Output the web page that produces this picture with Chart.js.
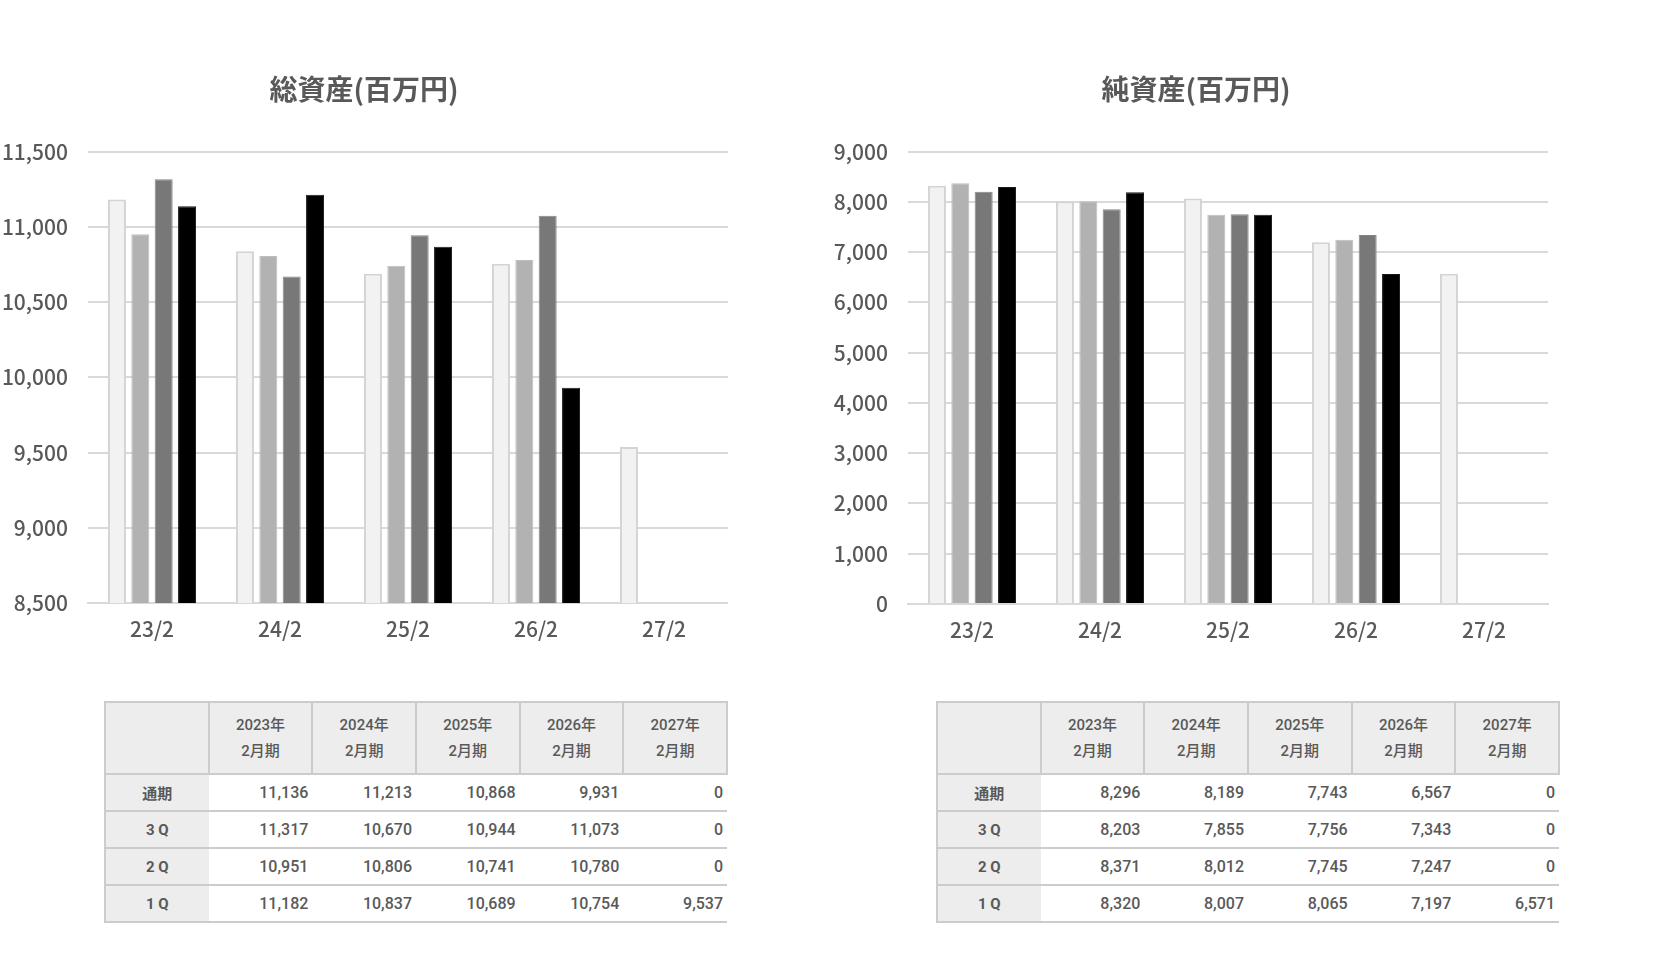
<!DOCTYPE html>
<html lang="ja">
<head>
<meta charset="utf-8">
<title>総資産・純資産</title>
<script src="https://cdn.jsdelivr.net/npm/chart.js@4.4.1/dist/chart.umd.min.js"></script>
<style>
    html, body {
        margin: 0;
        padding: 0;
        background: #ffffff;
    }
    body {
        width: 1666px;
        height: 962px;
        position: relative;
        overflow: hidden;
        font-family: Roboto, "Noto Sans CJK JP", sans-serif;
        color: #595959;
    }
    .chart {
        position: absolute;
        top: 0;
    }
    table {
        position: absolute;
        top: 701px;
        width: 624px;
        border-collapse: collapse;
        table-layout: fixed;
        font-weight: 500;
    }
    th {
        background: #ededed;
        border: 2px solid #cccccc;
        font-size: 15px;
        line-height: 26px;
        font-weight: 500;
        height: 70px;
        padding: 0;
    }
    td {
        border-top: 2px solid #cccccc;
        border-bottom: 2px solid #cccccc;
        font-size: 16px;
        height: 35px;
        padding: 0 4px 0 0;
        text-align: right;
    }
    td.label {
        background: #ededed;
        border-left: 2px solid #cccccc;
        text-align: center;
        padding: 0;
        font-size: 15px;
        font-weight: 700;
    }
</style>
</head>
<body>

<div class="chart" style="left:0;width:728px;height:660px"><canvas id="totalChart"></canvas></div>
<div class="chart" style="left:820px;width:752px;height:661px"><canvas id="netChart"></canvas></div>

<table id="totalTable" style="left:104px"></table>
<table id="netTable" style="left:936px"></table>

<script>
"use strict";

// categories (x axis) and table headers
const categories = ["23/2", "24/2", "25/2", "26/2", "27/2"];
const fiscalYears = ["2023年", "2024年", "2025年", "2026年", "2027年"];
const fiscalSuffix = "2月期";

// series, drawn in this order
const seriesNames = ["1Q", "2Q", "3Q", "通期"];
const rowLabels = ["通期", "3 Q", "2 Q", "1 Q"];

// 総資産 (百万円)
const total1Q = [11182, 10837, 10689, 10754, 9537];
const total2Q = [10951, 10806, 10741, 10780, 0];
const total3Q = [11317, 10670, 10944, 11073, 0];
const totalFull = [11136, 11213, 10868, 9931, 0];

// 純資産 (百万円)
const net1Q = [8320, 8007, 8065, 7197, 6571];
const net2Q = [8371, 8012, 7745, 7247, 0];
const net3Q = [8203, 7855, 7756, 7343, 0];
const netFull = [8296, 8189, 7743, 6567, 0];

// y axis ticks
const totalTicks = { min: 8500, max: 11500, step: 500 };
const netTicks = { min: 0, max: 9000, step: 1000 };

const FONT = "'Noto Sans CJK JP', sans-serif";
const TEXT = "#595959";
const GRID = "#d9d9d9";
const STYLES = [
    { backgroundColor: "#f2f2f2", borderColor: "#d4d4d4", borderWidth: 2 },
    { backgroundColor: "#b2b2b2", borderColor: "#bdbdbd", borderWidth: 1 },
    { backgroundColor: "#787878", borderColor: "#858585", borderWidth: 1 },
    { backgroundColor: "#000000", borderColor: "#1a1a1a", borderWidth: 1 }
];

const fmt = v => v.toLocaleString("en-US");

// spareRight: blank strip right of the plot, only there to shift the title's centre
function makeChart (id, title, series, ticks, spareRight) {
    return new Chart(document.getElementById(id), {
        type: "bar",
        data: {
            labels: categories,
            datasets: series.map((values, i) => ({
                label: seriesNames[i],
                // a 0 in the table means "no figure yet": no bar
                data: values.map(v => v === 0 ? null : v),
                ...STYLES[i],
                categoryPercentage: 0.73,
                barPercentage: 0.77
            }))
        },
        options: {
            responsive: true,
            maintainAspectRatio: false,
            animation: false,
            layout: { padding: 0 },
            plugins: {
                legend: { display: false },
                tooltip: { enabled: false },
                title: {
                    display: true,
                    text: title,
                    color: TEXT,
                    font: { family: FONT, size: 28, weight: "bold" },
                    padding: { top: 73, bottom: 45 }
                }
            },
            scales: {
                x: {
                    grid: { display: false, drawTicks: false },
                    border: { display: true, color: GRID, width: 2 },
                    ticks: {
                        color: TEXT,
                        padding: 13,
                        font: { family: FONT, size: 21, weight: 500 }
                    },
                    afterFit: scale => { scale.height = 57; }
                },
                y: {
                    min: ticks.min,
                    max: ticks.max,
                    grid: { color: GRID, lineWidth: 2, drawTicks: false },
                    border: { display: false },
                    ticks: {
                        stepSize: ticks.step,
                        color: TEXT,
                        padding: 20,
                        font: { family: FONT, size: 21, weight: 500 },
                        callback: v => fmt(v)
                    },
                    afterFit: scale => { scale.width = 88; }
                },
                spare: {
                    type: "linear",
                    position: "right",
                    display: spareRight > 0,
                    grid: { display: false, drawTicks: false },
                    border: { display: false },
                    ticks: { display: false },
                    afterFit: scale => { scale.width = spareRight; }
                }
            }
        }
    });
}

function makeTable (id, series) {
    const table = document.getElementById(id);
    const head = document.createElement("tr");

    head.appendChild(document.createElement("th"));
    fiscalYears.forEach(year => {
        const th = document.createElement("th");

        th.innerHTML = `${year}<br>${fiscalSuffix}`;
        head.appendChild(th);
    });
    table.appendChild(head);

    // table rows run 通期, 3Q, 2Q, 1Q: series reversed
    series.slice().reverse().forEach((values, r) => {
        const tr = document.createElement("tr");
        const label = document.createElement("td");

        label.className = "label";
        label.textContent = rowLabels[r];
        tr.appendChild(label);

        values.forEach(v => {
            const td = document.createElement("td");

            td.textContent = fmt(v);
            tr.appendChild(td);
        });
        table.appendChild(tr);
    });
}

const totalSeries = [total1Q, total2Q, total3Q, totalFull];
const netSeries = [net1Q, net2Q, net3Q, netFull];

makeChart("totalChart", "総資産(百万円)", totalSeries, totalTicks, 0);
makeChart("netChart", "純資産(百万円)", netSeries, netTicks, 24);
makeTable("totalTable", totalSeries);
makeTable("netTable", netSeries);
</script>
</body>
</html>
